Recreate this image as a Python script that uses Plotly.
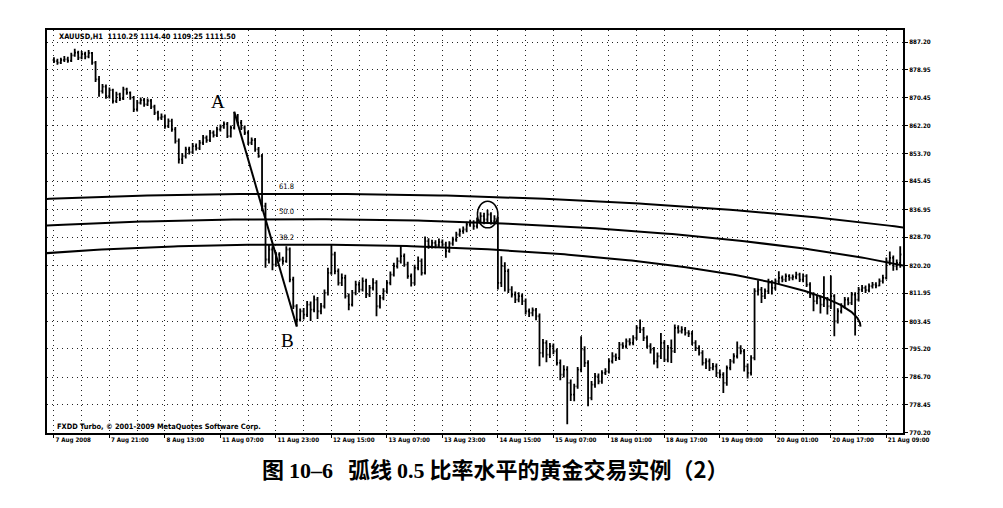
import plotly.graph_objects as go
import math

# ---------------- data ----------------
x_labels = ["7 Aug 2008", "7 Aug 21:00", "8 Aug 13:00", "11 Aug 07:00", "11 Aug 23:00",
            "12 Aug 15:00", "13 Aug 07:00", "13 Aug 23:00", "14 Aug 15:00", "15 Aug 07:00",
            "18 Aug 01:00", "18 Aug 17:00", "19 Aug 09:00", "20 Aug 01:00", "20 Aug 17:00",
            "21 Aug 09:00"]
x_label_pos = [0, 16, 32, 48, 64, 80, 96, 112, 128, 144, 160, 176, 192, 208, 224, 240]
x_grid_minor = [8, 24, 40, 56, 72, 88, 104, 120, 136, 152, 168, 184, 200, 216, 232]

y_ticks = [887.20, 878.95, 870.45, 862.20, 853.70, 845.45, 836.95, 828.70,
           820.20, 811.95, 803.45, 795.20, 786.70, 778.45, 770.20]

opens = [
    881.8, 881.5, 881.0, 881.8, 882.0, 881.6, 883.2, 884.0, 882.5, 883.6, 882.8, 883.9, 881.0, 876.0, 872.5, 873.8,
    871.0, 872.8, 869.5, 871.5, 870.2, 873.0, 872.0, 870.5, 867.0, 869.0, 869.8, 868.5, 869.6, 867.8, 866.0, 864.5,
    864.8, 862.0, 863.5, 861.0, 857.5, 852.0, 853.0, 855.0, 854.2, 856.0, 855.4, 857.0, 858.5, 857.8, 860.0, 859.3,
    861.0, 861.8, 862.6, 859.0, 861.5, 865.0, 863.0, 861.5, 860.0, 857.0, 857.8, 855.0, 853.0, 838.0, 822.0, 825.0,
    820.5, 823.5, 822.0, 821.5, 825.0, 816.0, 808.0, 804.0, 806.5, 805.5, 808.5, 807.0, 810.0, 806.5, 808.0, 812.0,
    818.0, 823.5, 818.5, 815.0, 816.5, 811.0, 808.5, 812.0, 814.5, 813.0, 815.5, 811.5, 813.5, 815.0, 808.0, 810.5,
    812.5, 815.0, 817.5, 820.0, 821.5, 823.0, 820.5, 817.0, 815.0, 819.5, 821.5, 818.0, 827.5, 826.0, 827.0, 826.3,
    827.2, 826.5, 824.5, 826.8, 828.0, 829.5, 830.5, 831.0, 832.5, 833.0, 832.0, 833.8, 835.0, 834.0, 835.5, 833.5,
    834.2, 815.0, 820.0, 818.5, 813.0, 811.5, 810.0, 811.0, 809.5, 806.5, 806.0, 806.8, 805.0, 794.0, 797.0, 793.5,
    796.0, 794.5, 791.0, 787.5, 789.0, 785.0, 781.5, 784.0, 789.0, 795.0, 791.0, 780.5, 784.5, 787.0, 785.5, 788.0,
    788.5, 791.5, 793.0, 792.5, 796.5, 796.0, 797.5, 797.0, 798.5, 801.5, 801.0, 798.5, 796.0, 795.0, 791.5, 793.0,
    797.0, 792.0, 795.5, 794.5, 801.5, 800.5, 801.0, 800.0, 799.8, 797.0, 795.5, 794.0, 791.0, 791.5, 789.5, 790.0,
    788.0, 787.5, 785.0, 789.5, 791.5, 793.0, 795.5, 794.5, 790.0, 788.0, 792.5, 812.5, 813.0, 811.0, 812.5, 815.0,
    813.5, 815.5, 816.5, 816.0, 817.0, 816.5, 816.8, 817.5, 816.0, 817.0, 814.5, 811.5, 809.5, 810.5, 808.5, 810.0,
    808.0, 811.0, 803.5, 806.5, 808.0, 810.0, 809.0, 811.5, 810.0, 813.0, 813.5, 812.8, 814.0, 814.5, 814.2, 815.5,
    816.5, 821.5, 822.5, 820.0, 821.0,
]
highs = [
    882.6, 882.2, 882.5, 883.0, 882.8, 884.0, 885.2, 884.6, 884.5, 884.3, 884.8, 884.2, 881.5, 877.0, 874.6, 874.5,
    873.6, 873.2, 872.3, 872.0, 873.8, 873.5, 872.4, 871.0, 869.8, 870.6, 870.4, 870.3, 870.1, 868.4, 866.6, 865.8,
    865.5, 864.3, 864.2, 861.7, 858.3, 853.9, 855.8, 855.8, 856.9, 856.8, 857.8, 859.3, 859.2, 860.8, 860.7, 861.8,
    862.5, 863.4, 863.2, 862.2, 866.3, 865.6, 863.8, 862.2, 860.7, 858.6, 858.4, 855.7, 853.6, 839.0, 826.5, 826.0,
    824.3, 824.2, 822.8, 826.0, 825.6, 816.8, 808.6, 807.3, 807.5, 809.6, 809.4, 811.2, 810.8, 809.0, 813.0, 819.5,
    826.5, 824.3, 819.3, 817.8, 817.4, 811.8, 812.9, 815.6, 815.4, 816.6, 816.2, 814.4, 816.4, 815.8, 811.4, 813.4,
    815.8, 818.4, 821.0, 822.6, 826.2, 823.8, 821.3, 817.8, 820.4, 822.9, 822.3, 828.9, 828.4, 827.9, 827.8, 828.3,
    828.0, 827.3, 827.5, 828.8, 830.3, 831.3, 831.9, 833.3, 833.9, 833.8, 834.6, 836.2, 836.0, 836.9, 836.2, 835.3,
    834.8, 823.0, 821.2, 819.2, 814.0, 812.4, 812.2, 811.8, 810.3, 807.3, 807.6, 807.5, 805.8, 798.2, 797.8, 797.0,
    796.8, 795.3, 792.0, 790.3, 790.0, 786.0, 784.8, 789.8, 799.0, 796.0, 791.8, 785.6, 788.0, 787.8, 788.8, 789.4,
    792.4, 794.2, 793.8, 797.3, 797.2, 798.3, 798.4, 799.3, 802.3, 804.0, 801.8, 799.2, 796.9, 795.8, 794.1, 800.0,
    797.8, 796.4, 798.0, 802.5, 802.3, 802.0, 801.8, 800.8, 800.6, 797.8, 796.3, 794.8, 792.4, 792.3, 791.0, 790.8,
    789.0, 788.2, 790.2, 792.2, 793.9, 797.4, 796.3, 795.2, 790.8, 793.3, 813.4, 815.8, 813.8, 813.3, 816.2, 815.8,
    816.3, 818.5, 817.2, 817.8, 817.6, 817.5, 818.3, 818.0, 817.8, 817.6, 815.2, 812.2, 811.4, 811.2, 817.0, 810.8,
    817.2, 811.6, 807.4, 808.9, 810.8, 810.7, 812.3, 812.2, 813.8, 814.4, 814.2, 814.8, 815.3, 815.2, 816.3, 817.4,
    822.6, 824.4, 823.2, 822.0, 826.0,
]
lows = [
    880.9, 880.4, 880.6, 881.2, 881.0, 881.2, 882.8, 881.8, 882.0, 882.0, 882.3, 880.4, 875.2, 870.8, 871.8, 870.2,
    870.3, 868.8, 868.9, 869.5, 869.8, 871.4, 869.9, 866.2, 866.4, 868.5, 867.8, 868.0, 867.1, 865.3, 863.7, 863.8,
    861.2, 861.4, 860.3, 856.8, 850.8, 850.6, 852.3, 853.5, 853.6, 854.7, 854.8, 856.3, 857.0, 857.2, 858.6, 858.7,
    860.4, 861.2, 858.4, 858.6, 861.0, 862.4, 860.8, 859.3, 856.3, 856.3, 854.3, 852.5, 836.5, 819.5, 820.8, 818.8,
    819.8, 821.3, 820.4, 821.0, 815.2, 807.2, 801.9, 803.4, 804.0, 804.8, 803.6, 806.2, 804.2, 805.6, 807.3, 811.2,
    817.4, 817.6, 814.2, 814.1, 810.3, 806.8, 807.9, 811.3, 812.1, 812.4, 810.5, 810.8, 812.7, 805.0, 807.3, 809.8,
    811.8, 814.3, 816.9, 819.3, 820.8, 819.8, 816.2, 813.9, 814.3, 818.8, 817.2, 817.5, 825.2, 825.3, 825.4, 825.6,
    825.8, 822.5, 824.0, 826.1, 827.3, 828.8, 829.7, 830.2, 831.8, 830.9, 831.3, 833.1, 832.6, 833.2, 832.5, 832.7,
    813.0, 813.8, 812.4, 812.0, 810.6, 809.0, 809.2, 808.4, 805.5, 804.8, 805.0, 803.8, 790.0, 792.6, 791.2, 792.5,
    793.6, 790.2, 785.8, 786.6, 772.6, 779.6, 779.5, 783.3, 788.2, 789.8, 778.0, 779.8, 783.6, 784.6, 784.8, 787.4,
    787.8, 790.8, 791.6, 791.9, 795.2, 795.3, 796.2, 796.3, 797.9, 800.0, 797.6, 795.3, 793.8, 790.5, 789.4, 792.2,
    791.3, 791.2, 791.0, 794.0, 799.8, 799.8, 799.2, 798.8, 796.3, 794.6, 793.2, 790.2, 789.2, 788.6, 788.8, 786.8,
    786.4, 782.0, 784.2, 788.8, 790.8, 792.3, 793.6, 788.4, 786.3, 787.2, 791.8, 811.2, 809.0, 810.2, 811.7, 811.5,
    812.8, 814.6, 815.2, 815.3, 815.6, 815.8, 816.1, 815.3, 815.2, 813.8, 810.5, 806.5, 808.6, 805.8, 807.8, 805.5,
    807.2, 799.0, 802.8, 805.8, 807.3, 808.3, 808.4, 799.2, 809.4, 812.3, 812.0, 812.2, 813.3, 813.4, 814.0, 814.8,
    816.0, 820.3, 818.6, 818.8, 819.5,
]
closes = [
    881.5, 881.0, 881.8, 882.0, 881.6, 883.2, 884.0, 882.5, 883.6, 882.8, 883.9, 881.0, 876.0, 872.5, 873.8, 871.0,
    872.8, 869.5, 871.5, 870.2, 873.0, 872.0, 870.5, 867.0, 869.0, 869.8, 868.5, 869.6, 867.8, 866.0, 864.5, 864.8,
    862.0, 863.5, 861.0, 857.5, 852.0, 853.0, 855.0, 854.2, 856.0, 855.4, 857.0, 858.5, 857.8, 860.0, 859.3, 861.0,
    861.8, 862.6, 859.0, 861.5, 865.0, 863.0, 861.5, 860.0, 857.0, 857.8, 855.0, 853.0, 838.0, 822.0, 825.0, 820.5,
    823.5, 822.0, 821.5, 825.0, 816.0, 808.0, 804.0, 806.5, 805.5, 808.5, 807.0, 810.0, 806.5, 808.0, 812.0, 818.0,
    823.5, 818.5, 815.0, 816.5, 811.0, 808.5, 812.0, 814.5, 813.0, 815.5, 811.5, 813.5, 815.0, 808.0, 810.5, 812.5,
    815.0, 817.5, 820.0, 821.5, 823.0, 820.5, 817.0, 815.0, 819.5, 821.5, 818.0, 827.5, 826.0, 827.0, 826.3, 827.2,
    826.5, 824.5, 826.8, 828.0, 829.5, 830.5, 831.0, 832.5, 833.0, 832.0, 833.8, 835.0, 834.0, 835.5, 833.5, 834.2,
    815.0, 820.0, 818.5, 813.0, 811.5, 810.0, 811.0, 809.5, 806.5, 806.0, 806.8, 805.0, 794.0, 797.0, 793.5, 796.0,
    794.5, 791.0, 787.5, 789.0, 785.0, 781.5, 784.0, 789.0, 795.0, 791.0, 780.5, 784.5, 787.0, 785.5, 788.0, 788.5,
    791.5, 793.0, 792.5, 796.5, 796.0, 797.5, 797.0, 798.5, 801.5, 801.0, 798.5, 796.0, 795.0, 791.5, 793.0, 797.0,
    792.0, 795.5, 794.5, 801.5, 800.5, 801.0, 800.0, 799.8, 797.0, 795.5, 794.0, 791.0, 791.5, 789.5, 790.0, 788.0,
    787.5, 785.0, 789.5, 791.5, 793.0, 795.5, 794.5, 790.0, 788.0, 792.5, 812.5, 813.0, 811.0, 812.5, 815.0, 813.5,
    815.5, 816.5, 816.0, 817.0, 816.5, 816.8, 817.5, 816.0, 817.0, 814.5, 811.5, 809.5, 810.5, 808.5, 810.0, 808.0,
    811.0, 803.5, 806.5, 808.0, 810.0, 809.0, 811.5, 810.0, 813.0, 813.5, 812.8, 814.0, 814.5, 814.2, 815.5, 816.5,
    821.5, 822.5, 820.0, 821.0, 823.5,
]
bar_index = list(range(len(closes)))

# Fibonacci arc drawing: points A and B, ratios
point_A = (52, 866.3)
point_B = (70, 801.9)
fib_ratios = [0.382, 0.500, 0.618]
fib_labels = ["38.2", "50.0", "61.8"]
arc_x_per_ratio = 425.5   # horizontal semi-axis (bars) per unit ratio

# circled top
circle_box = (122.1, 128.0, 831.5, 839.5)

# ---------------- figure ----------------
NARROW = "Liberation Sans Narrow, DejaVu Sans Condensed, Arial Narrow, sans-serif"
SERIF = "Liberation Serif, Times New Roman, serif"
fig = go.Figure()

fig.add_trace(go.Ohlc(
    x=bar_index, open=opens, high=highs, low=lows, close=closes,
    increasing=dict(line=dict(color="black", width=1.8)),
    decreasing=dict(line=dict(color="black", width=1.8)),
    tickwidth=0.35, showlegend=False, hoverinfo="skip",
))

ax, ay = point_A
bx, by = point_B
span = ay - by
x_left, x_right = -2.0, 244.8
for r, lab in zip(fib_ratios, fib_labels):
    a = arc_x_per_ratio * r
    b = span * r
    xs, ys = [], []
    n = 400
    for k in range(n + 1):
        t = math.pi * k / n
        xs.append(bx - a * math.cos(t))
        ys.append(by + b * math.sin(t))
    fig.add_trace(go.Scatter(x=xs, y=ys, mode="lines", line=dict(color="black", width=2),
                             showlegend=False, hoverinfo="skip"))
    lx = 67
    ly = by + b * math.sqrt(max(0.0, 1 - ((lx - bx) / a) ** 2))
    fig.add_annotation(x=lx, y=ly, text=lab, showarrow=False, xanchor="center", yanchor="bottom",
                       yshift=1, font=dict(family=NARROW, size=7.5, color="black"))

fig.add_trace(go.Scatter(x=[ax, bx], y=[ay, by], mode="lines", line=dict(color="black", width=2),
                         showlegend=False, hoverinfo="skip"))

fig.add_shape(type="circle", xref="x", yref="y", x0=circle_box[0], x1=circle_box[1],
              y0=circle_box[2], y1=circle_box[3], line=dict(color="black", width=1.5))

fig.add_annotation(x=ax - 4.6, y=ay, yshift=-2, text="A", showarrow=False, xanchor="center", yanchor="bottom",
                   font=dict(family=SERIF, size=19, color="black"))
fig.add_annotation(x=bx - 2.8, y=by - 0.3, text="B", showarrow=False, xanchor="center", yanchor="top",
                   font=dict(family=SERIF, size=19, color="black"))

fig.add_annotation(xref="paper", yref="paper", x=0.012, y=0.984, xanchor="left", yanchor="middle",
                   text="<b>XAUUSD,H1  1110.25 1114.40 1109.25 1111.50</b>", showarrow=False,
                   font=dict(family=NARROW, size=7.4, color="black"))
fig.add_annotation(xref="paper", yref="paper", x=0.009, y=0.016, xanchor="left", yanchor="middle",
                   text="<b>FXDD Turbo, © 2001-2009 MetaQuotes Software Corp.</b>", showarrow=False,
                   font=dict(family=NARROW, size=7.4, color="black"))

serif_span = '<span style="font-family:Liberation Serif, Times New Roman, serif">'
caption = ("<b>图 " + serif_span + "10–6</span>   弧线 " + serif_span + "0.5</span>"
           " 比率水平的黄金交易实例（2）</b>")
fig.add_annotation(xref="paper", yref="paper", x=(495 - 47) / 856, y=(433 - 468) / 403,
                   xanchor="center", yanchor="middle", showarrow=False, text=caption,
                   font=dict(family="Noto Sans CJK SC", size=22, color="black"))

grid_dash = "1px,4px"
fig.update_layout(
    width=1003, height=508,
    margin=dict(l=39, r=108, t=22, b=83, autoexpand=False),
    paper_bgcolor="white", plot_bgcolor="white",
    showlegend=False,
    xaxis=dict(
        range=[x_left, x_right], rangeslider=dict(visible=False),
        tickmode="array", tickvals=x_label_pos, ticktext=x_labels, tickangle=0,
        ticklabelposition="outside right", ticks="outside", ticklen=3, tickcolor="black",
        tickfont=dict(family=NARROW, size=6.2, color="black", weight="bold"),
        showgrid=True, gridcolor="#222", griddash=grid_dash, gridwidth=1,
        minor=dict(tickmode="array", tickvals=x_grid_minor, showgrid=True, gridcolor="#222",
                   griddash=grid_dash, gridwidth=1, ticks=""),
        showline=True, linecolor="black", linewidth=2, mirror=True, zeroline=False,
        fixedrange=True, automargin=False,
    ),
    yaxis=dict(
        range=[770.0, 890.8], side="right",
        tickmode="array", tickvals=y_ticks, ticktext=[f"{v:.2f}" for v in y_ticks],
        ticks="outside", ticklen=3, tickcolor="black",
        tickfont=dict(family=NARROW, size=6.2, color="black", weight="bold"),
        showgrid=True, gridcolor="#222", griddash=grid_dash, gridwidth=1,
        showline=True, linecolor="black", linewidth=2, mirror=True, zeroline=False,
        fixedrange=True, automargin=False,
    ),
)

fig.write_html("out.html")
